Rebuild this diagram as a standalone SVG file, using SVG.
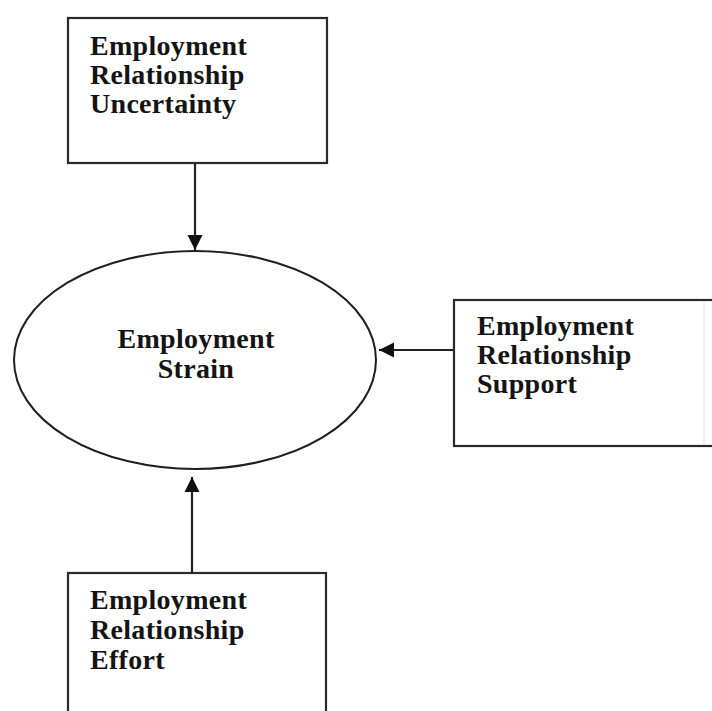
<svg xmlns="http://www.w3.org/2000/svg" width="712" height="711" viewBox="0 0 712 711">
  <style>
    .box { fill: #ffffff; stroke: #2a2a2a; stroke-width: 2.2; }
    .oval { fill: #ffffff; stroke: #1e1e1e; stroke-width: 2; }
    .label { font-family: "Liberation Serif", "Times New Roman", serif; font-weight: bold; font-size: 28px; letter-spacing: 0.3px; fill: #141414; }
    .edge { stroke: #222222; stroke-width: 2.2; fill: none; marker-end: url(#head); }
  </style>
  <defs>
    <marker id="head" markerUnits="userSpaceOnUse" markerWidth="16" markerHeight="16" viewBox="0 0 16 16" refX="15" refY="8" orient="auto">
      <path d="M0,0.5 L15,8 L0,15.5 Z" fill="#111111"/>
    </marker>
  </defs>
  <rect width="712" height="711" fill="#ffffff"/>

  <g id="connectors">
    <line class="edge" x1="195" y1="163" x2="195" y2="250"/>
    <line class="edge" x1="454" y1="350" x2="379" y2="350"/>
    <line class="edge" x1="192" y1="573" x2="192" y2="477"/>
  </g>

  <g id="uncertainty">
    <rect class="box" x="68" y="18" width="259" height="145"/>
    <text class="label" x="90" y="55">Employment</text>
    <text class="label" x="90" y="84">Relationship</text>
    <text class="label" x="90" y="113">Uncertainty</text>
  </g>

  <g id="strain">
    <ellipse class="oval" cx="195" cy="360" rx="181" ry="109"/>
    <text class="label" x="196" y="348" text-anchor="middle">Employment</text>
    <text class="label" x="196" y="378" text-anchor="middle">Strain</text>
  </g>

  <g id="support">
    <!-- box runs off the right edge of the canvas -->
    <rect class="box" x="454" y="300" width="270" height="146"/>
    <line x1="704" y1="301" x2="704" y2="445" stroke="#e4e4e4" stroke-width="1"/>
    <text class="label" x="477" y="335">Employment</text>
    <text class="label" x="477" y="364">Relationship</text>
    <text class="label" x="477" y="393">Support</text>
  </g>

  <g id="effort">
    <rect class="box" x="68" y="573" width="258" height="160"/>
    <text class="label" x="90" y="609">Employment</text>
    <text class="label" x="90" y="639">Relationship</text>
    <text class="label" x="90" y="669">Effort</text>
  </g>
</svg>
